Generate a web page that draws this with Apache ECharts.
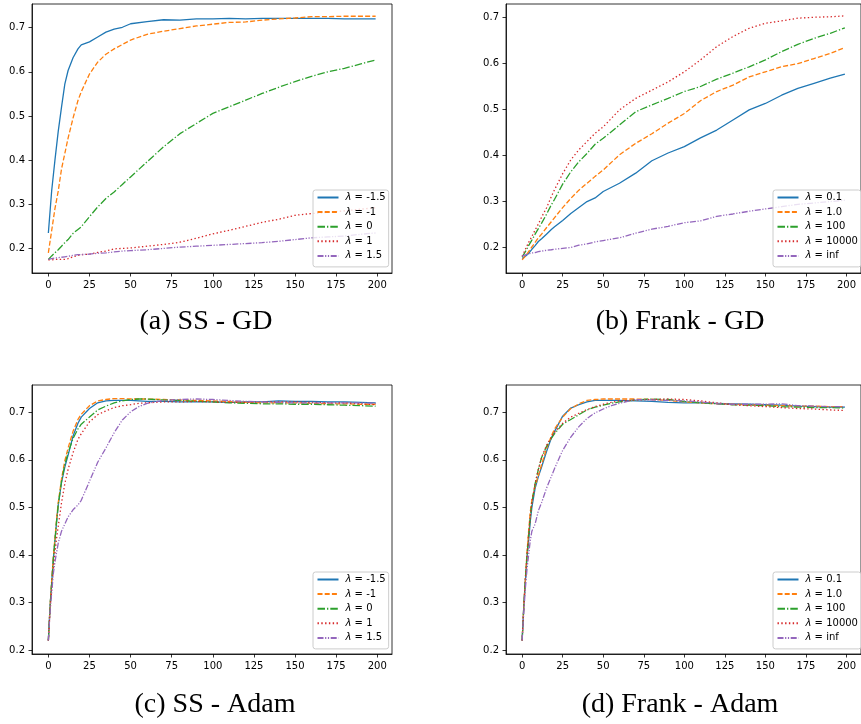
<!DOCTYPE html>
<html>
<head>
<meta charset="utf-8">
<script src="https://cdn.jsdelivr.net/npm/echarts@6/dist/echarts.min.js"></script>
<style>html,body{margin:0;padding:0;background:#fff;}#c{width:861px;height:724px;}</style>
</head>
<body>
<div id="c"></div>
<script>
// ---------- data ----------
const epochsGD = [0,2,4,6,8,10,12,15,18,20,25,30,35,40,45,50,60,70,80,90,100,110,120,130,140,150,160,170,180,190,199];
const epochsAdam = [0,1,2,3,4,5,6,8,10,12,15,18,20,25,30,35,40,45,50,55,60,70,80,90,100,110,120,130,140,150,160,170,180,190,199];
const xTicks = [0,25,50,75,100,125,150,175,200];
const yTicks = [0.2,0.3,0.4,0.5,0.6,0.7];

const ssLabels = ['-1.5','-1','0','1','1.5'];
const frankLabels = ['0.1','1.0','100','10000','inf'];

// (a) SS - GD
const ssGD_m15 = [0.235,0.33,0.40,0.465,0.52,0.572,0.603,0.632,0.652,0.661,0.668,0.679,0.690,0.697,0.701,0.709,0.714,0.718,0.717,0.720,0.720,0.721,0.720,0.721,0.721,0.721,0.721,0.721,0.720,0.720,0.720];
const ssGD_m1  = [0.19,0.24,0.29,0.33,0.38,0.415,0.45,0.495,0.535,0.555,0.595,0.622,0.640,0.652,0.662,0.672,0.685,0.692,0.698,0.704,0.708,0.712,0.713,0.717,0.720,0.722,0.725,0.725,0.726,0.726,0.726];
const ssGD_0   = [0.175,0.183,0.19,0.197,0.205,0.213,0.22,0.234,0.243,0.249,0.272,0.294,0.313,0.328,0.345,0.362,0.396,0.43,0.46,0.483,0.506,0.521,0.536,0.551,0.565,0.578,0.59,0.6,0.608,0.618,0.627];
const ssGD_1   = [0.174,0.174,0.175,0.175,0.175,0.175,0.177,0.181,0.184,0.186,0.187,0.191,0.194,0.199,0.2,0.201,0.205,0.209,0.214,0.223,0.233,0.241,0.25,0.259,0.266,0.275,0.279,0.282,0.285,0.289,0.292];
const ssGD_15  = [0.175,0.177,0.178,0.179,0.18,0.181,0.182,0.184,0.186,0.186,0.187,0.189,0.19,0.192,0.194,0.195,0.197,0.2,0.203,0.205,0.207,0.209,0.211,0.213,0.216,0.22,0.224,0.226,0.228,0.232,0.235];

// (b) Frank - GD
const frGD_01    = [0.175,0.18,0.186,0.195,0.203,0.212,0.218,0.228,0.238,0.244,0.258,0.273,0.286,0.299,0.307,0.321,0.339,0.361,0.388,0.405,0.419,0.438,0.455,0.477,0.499,0.513,0.531,0.546,0.557,0.568,0.577];
const frGD_10    = [0.172,0.18,0.19,0.2,0.21,0.22,0.228,0.242,0.255,0.264,0.286,0.306,0.324,0.339,0.354,0.368,0.401,0.426,0.447,0.47,0.491,0.519,0.539,0.553,0.571,0.582,0.593,0.6,0.611,0.622,0.635];
const frGD_100   = [0.178,0.19,0.203,0.215,0.228,0.24,0.252,0.271,0.292,0.304,0.337,0.364,0.386,0.404,0.424,0.437,0.466,0.495,0.51,0.524,0.539,0.55,0.566,0.579,0.593,0.608,0.626,0.642,0.655,0.666,0.678];
const frGD_10000 = [0.18,0.195,0.21,0.223,0.237,0.25,0.265,0.285,0.31,0.325,0.36,0.39,0.412,0.43,0.448,0.462,0.499,0.524,0.542,0.56,0.582,0.608,0.637,0.659,0.677,0.688,0.693,0.699,0.701,0.702,0.704];
const frGD_inf   = [0.18,0.183,0.185,0.187,0.188,0.19,0.191,0.193,0.194,0.195,0.197,0.199,0.204,0.207,0.211,0.214,0.22,0.23,0.239,0.245,0.253,0.257,0.267,0.272,0.278,0.283,0.288,0.293,0.296,0.299,0.302];

// (c) SS - Adam
const ssAd_m15 = [0.22,0.29,0.34,0.39,0.43,0.47,0.505,0.552,0.585,0.61,0.65,0.677,0.69,0.708,0.72,0.724,0.725,0.725,0.725,0.724,0.723,0.723,0.722,0.722,0.722,0.721,0.722,0.722,0.724,0.723,0.723,0.722,0.722,0.721,0.72];
const ssAd_m1  = [0.22,0.29,0.345,0.395,0.435,0.475,0.51,0.56,0.598,0.625,0.66,0.685,0.696,0.714,0.724,0.727,0.729,0.729,0.728,0.728,0.728,0.727,0.726,0.725,0.724,0.723,0.721,0.72,0.72,0.72,0.719,0.718,0.718,0.717,0.717];
const ssAd_0   = [0.22,0.29,0.34,0.39,0.43,0.47,0.505,0.555,0.59,0.615,0.645,0.665,0.675,0.69,0.705,0.713,0.72,0.724,0.727,0.728,0.728,0.726,0.725,0.723,0.722,0.72,0.719,0.718,0.718,0.717,0.717,0.716,0.715,0.714,0.713];
const ssAd_1   = [0.22,0.28,0.33,0.37,0.405,0.435,0.46,0.51,0.55,0.58,0.615,0.643,0.655,0.68,0.695,0.703,0.71,0.714,0.716,0.719,0.72,0.722,0.722,0.723,0.722,0.721,0.721,0.722,0.722,0.722,0.721,0.72,0.72,0.718,0.716];
const ssAd_15  = [0.22,0.28,0.32,0.36,0.385,0.405,0.425,0.45,0.465,0.48,0.495,0.505,0.515,0.555,0.595,0.625,0.657,0.684,0.701,0.712,0.719,0.725,0.727,0.728,0.727,0.725,0.723,0.722,0.721,0.72,0.72,0.72,0.72,0.72,0.719];

// (d) Frank - Adam
const frAd_01    = [0.22,0.29,0.345,0.395,0.43,0.47,0.5,0.54,0.565,0.585,0.617,0.646,0.66,0.692,0.709,0.716,0.722,0.725,0.725,0.725,0.725,0.724,0.723,0.721,0.72,0.72,0.719,0.718,0.717,0.716,0.715,0.713,0.712,0.711,0.711];
const frAd_10    = [0.22,0.29,0.35,0.405,0.45,0.49,0.515,0.545,0.567,0.59,0.623,0.65,0.665,0.69,0.708,0.718,0.725,0.727,0.728,0.728,0.728,0.728,0.727,0.725,0.722,0.72,0.718,0.717,0.716,0.715,0.714,0.713,0.713,0.712,0.712];
const frAd_100   = [0.22,0.29,0.35,0.4,0.44,0.48,0.51,0.55,0.58,0.605,0.628,0.645,0.655,0.675,0.685,0.695,0.705,0.711,0.715,0.719,0.722,0.726,0.728,0.727,0.723,0.72,0.718,0.716,0.715,0.714,0.712,0.711,0.71,0.71,0.709];
const frAd_10000 = [0.22,0.29,0.35,0.4,0.44,0.48,0.51,0.55,0.58,0.605,0.63,0.648,0.658,0.677,0.69,0.698,0.706,0.712,0.717,0.721,0.724,0.726,0.727,0.728,0.727,0.724,0.72,0.716,0.714,0.712,0.71,0.708,0.707,0.705,0.704];
const frAd_inf   = [0.22,0.28,0.33,0.37,0.4,0.43,0.45,0.465,0.493,0.51,0.54,0.565,0.582,0.62,0.648,0.67,0.687,0.699,0.707,0.714,0.719,0.727,0.726,0.725,0.724,0.722,0.718,0.717,0.717,0.717,0.718,0.714,0.713,0.712,0.712];

const captions = ['(a) SS - GD','(b) Frank - GD','(c) SS - Adam','(d) Frank - Adam'];

// ---------- styles ----------
const colors = ['#1f77b4','#ff7f0e','#2ca02c','#d62728','#9467bd'];
const dashes = ['solid',[5,2.2],[7.5,2,1.3,2],[1.4,2.4],[6,1.6,1.2,1.6,1.2,1.6]];
const LW = 1.3;

const panels = [
  {ep: epochsGD,   labels: ssLabels,    vals: [ssGD_m15,ssGD_m1,ssGD_0,ssGD_1,ssGD_15], ymin: 0.1443, ymax: 0.7537,
   grid: {left:32, top:4, width:360, height:269}, legend: {left:313, top:190}, cap: [206,322]},
  {ep: epochsGD,   labels: frankLabels, vals: [frGD_01,frGD_10,frGD_100,frGD_10000,frGD_inf], ymin: 0.1433, ymax: 0.7299,
   grid: {left:506, top:4, width:359, height:269}, legend: {left:773, top:190}, cap: [680,322]},
  {ep: epochsAdam, labels: ssLabels,    vals: [ssAd_m15,ssAd_m1,ssAd_0,ssAd_1,ssAd_15], ymin: 0.1916, ymax: 0.7575,
   grid: {left:32, top:385, width:360, height:269}, legend: {left:313, top:572}, cap: [215,705]},
  {ep: epochsAdam, labels: frankLabels, vals: [frAd_01,frAd_10,frAd_100,frAd_10000,frAd_inf], ymin: 0.1916, ymax: 0.7575,
   grid: {left:506, top:385, width:359, height:269}, legend: {left:773, top:572}, cap: [680,705]}
];

const tickFont = {color:'#000', fontSize:10, fontFamily:'DejaVu Sans'};
const grids = [], xAxes = [], yAxes = [], series = [], legends = [], graphics = [];

panels.forEach((p, k) => {
  grids.push(Object.assign({show:true, borderColor:'#000', borderWidth:0.8, backgroundColor:'transparent'}, p.grid));
  xAxes.push({
    type:'value', gridIndex:k, min:-9.95, max:208.95,
    axisLine:{show:true, onZero:false, lineStyle:{color:'#000', width:0.8}},
    axisTick:{show:true, length:3.5, customValues:xTicks, lineStyle:{color:'#000', width:0.8}},
    axisLabel:Object.assign({customValues:xTicks, margin:7, showMinLabel:true, showMaxLabel:true}, tickFont),
    splitLine:{show:false}
  });
  yAxes.push({
    type:'value', gridIndex:k, min:p.ymin, max:p.ymax,
    axisLine:{show:true, onZero:false, lineStyle:{color:'#000', width:0.8}},
    axisTick:{show:true, length:3.5, customValues:yTicks, lineStyle:{color:'#000', width:0.8}},
    axisLabel:Object.assign({customValues:yTicks, margin:7, formatter:v => v.toFixed(1)}, tickFont),
    splitLine:{show:false}
  });
  const names = [];
  p.labels.forEach((lab, j) => {
    names.push(lab);
    series.push({
      type:'line', name:lab, xAxisIndex:k, yAxisIndex:k,
      data: p.ep.map((e, i) => [e, p.vals[j][i]]),
      symbol:'none', smooth:false, z: 2,
      lineStyle:{color:colors[j], width:LW, type:dashes[j]},
      itemStyle:{color:colors[j]}
    });
  });
  legends.push({
    orient:'vertical', left:p.legend.left, top:p.legend.top, data:names, z:10,
    itemWidth:21, itemHeight:10, itemGap:4.6,
    padding:[2.5, 3, 6, 3.5],
    borderColor:'#cccccc', borderWidth:1, borderRadius:2.5, backgroundColor:'rgba(255,255,255,0.8)',
    selectedMode:false,
    itemStyle:{opacity:0},
    formatter: n => '{i|λ} = ' + n,
    textStyle:{color:'#000', fontSize:10, fontFamily:'DejaVu Sans', lineHeight:10, padding:[0,0,0,2],
      rich:{i:{fontStyle:'italic', fontSize:10, fontFamily:'DejaVu Sans', lineHeight:10}}}
  });
  graphics.push({
    type:'text', x:p.cap[0], y:p.cap[1],
    style:{text:captions[k], fill:'#000', font:'28px "Liberation Serif"', textAlign:'center', textVerticalAlign:'middle'}
  });
});

const chart = echarts.init(document.getElementById('c'), null, {renderer:'canvas'});
chart.setOption({
  animation:false,
  backgroundColor:'#fff',
  grid:grids, xAxis:xAxes, yAxis:yAxes, series:series, legend:legends, graphic:graphics
});
</script>
</body>
</html>
